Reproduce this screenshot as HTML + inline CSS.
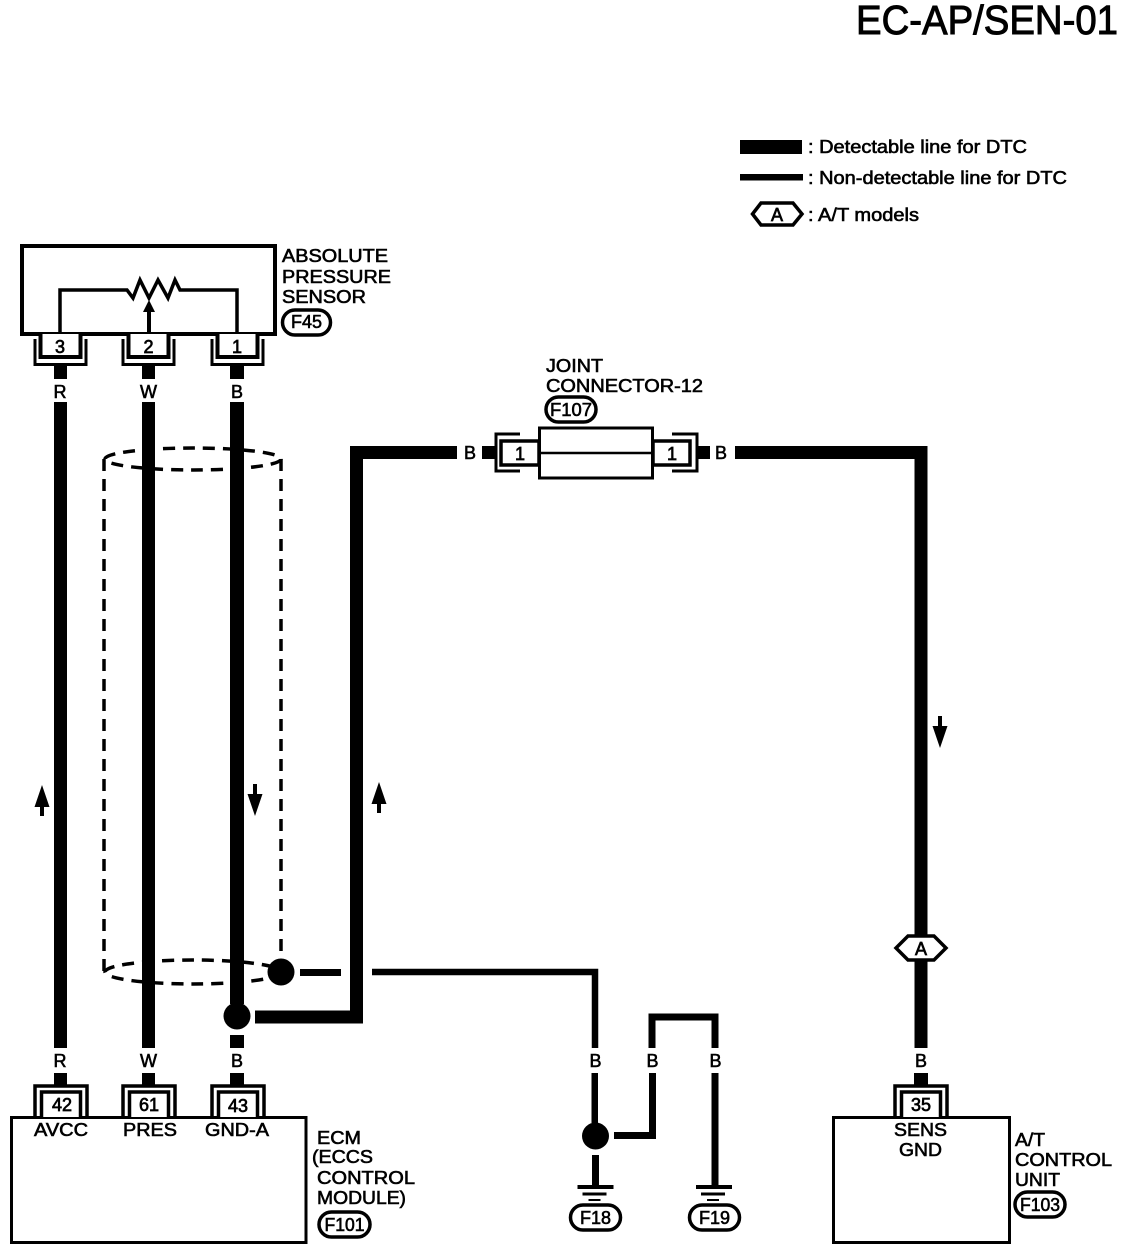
<!DOCTYPE html>
<html><head><meta charset="utf-8"><style>
html,body{margin:0;padding:0;background:#fff}
svg{display:block}
text{font-family:"Liberation Sans",sans-serif;fill:#000;stroke:#000;stroke-width:.6;font-size:18px}
.c{text-anchor:middle}
.n{font-size:18px;stroke-width:.7}
.p{font-size:18px;stroke-width:.6}
</style></head><body>
<svg xmlns="http://www.w3.org/2000/svg" width="1136" height="1252" viewBox="0 0 1136 1252">
<defs>
<path id="up" d="M0 0 L7.500 22 L2 22 L2 31 L-2 31 L-2 22 L-7.500 22Z"/>
<path id="dn" d="M-2 0 L2 0 L2 10 L7.500 10 L0 32 L-7.500 10 L-2 10Z"/>
<g id="topc" fill="none" stroke="#000">
<path d="M-25 339 V364.500 H26 V339" stroke-width="3"/>
<path d="M-19.500 334 V357 H20.500 V334" stroke-width="4" fill="#fff"/>
</g>
<g id="botc" fill="none" stroke="#000">
<path d="M-25 1116 V1086 H27 V1116" stroke-width="3.500"/>
<path d="M-18.500 1117 V1092 H20.500 V1117" stroke-width="3.500" fill="#fff"/>
</g>
<g id="gnd" stroke="#000">
<path d="M-18 0 H18" stroke-width="4"/><path d="M-13 7 H11" stroke-width="3"/><path d="M-7 13 H5" stroke-width="2"/>
</g>
</defs>
<rect width="1136" height="1252" fill="#fff"/>

<text x="856" y="34" style="font-size:41px;stroke-width:1" textLength="262" lengthAdjust="spacingAndGlyphs">EC-AP/SEN-01</text>

<!-- legend -->
<rect x="740" y="140" width="62" height="14"/>
<rect x="740" y="174" width="63" height="6.500"/>
<path d="M772 203 H761 L752.500 214 L761 225 H793 L802 214 L793 203Z" fill="#fff" stroke="#000" stroke-width="3.500"/>
<text class="c n" x="777" y="221">A</text>
<text x="808" y="153" textLength="219" lengthAdjust="spacingAndGlyphs">: Detectable line for DTC</text>
<text x="808" y="184" textLength="259" lengthAdjust="spacingAndGlyphs">: Non-detectable line for DTC</text>
<text x="808" y="221" textLength="111" lengthAdjust="spacingAndGlyphs">: A/T models</text>

<!-- sensor -->
<rect x="22" y="246" width="253" height="88" fill="none" stroke="#000" stroke-width="4"/>
<path d="M60 334 V290 H127 L133 298 L140 280 L149 298 L158 280 L168 298 L175 280 L180 290 H237 V334" fill="none" stroke="#000" stroke-width="3.500"/>
<path d="M149 300 L155 312 L151 312 V334 H147 V312 L143 312Z"/>
<text x="282" y="262" textLength="106" lengthAdjust="spacingAndGlyphs">ABSOLUTE</text>
<text x="282" y="283" textLength="109" lengthAdjust="spacingAndGlyphs">PRESSURE</text>
<text x="282" y="303" textLength="84" lengthAdjust="spacingAndGlyphs">SENSOR</text>
<rect x="282.500" y="310" width="48" height="25" rx="12.500" fill="#fff" stroke="#000" stroke-width="3.500"/>
<text class="c p" x="306.500" y="328">F45</text>

<use href="#topc" x="60"/><use href="#topc" x="148"/><use href="#topc" x="237"/>
<text class="c n" x="60" y="353">3</text>
<text class="c n" x="148.500" y="353">2</text>
<text class="c n" x="237" y="353">1</text>

<!-- main wires -->
<g>
<rect x="54" y="366" width="13" height="13"/><rect x="54" y="402" width="13" height="646"/><rect x="54" y="1073" width="13" height="13"/>
<rect x="142" y="366" width="13" height="13"/><rect x="142" y="402" width="13" height="646"/><rect x="142" y="1073" width="13" height="13"/>
<rect x="230" y="366" width="14" height="13"/><rect x="230" y="402" width="14" height="602"/><rect x="230" y="1035" width="14" height="13"/><rect x="230" y="1073" width="14" height="13"/>
</g>
<text class="c" x="60" y="398">R</text><text class="c" x="148.500" y="398">W</text><text class="c" x="237" y="398">B</text>
<text class="c" x="60" y="1067">R</text><text class="c" x="148.500" y="1067">W</text><text class="c" x="237" y="1067">B</text>

<!-- shield -->
<g fill="none" stroke="#000" stroke-width="3.500" stroke-dasharray="12 8">
<ellipse cx="193" cy="459" rx="88" ry="11"/>
<ellipse cx="193" cy="972" rx="88" ry="12"/>
<path d="M104 459 V972"/><path d="M281 459 V960"/>
</g>
<rect x="142" y="440" width="13" height="40"/><rect x="230" y="440" width="14" height="40"/>
<rect x="142" y="950" width="13" height="45"/><rect x="230" y="950" width="14" height="45"/>
<circle cx="281" cy="972" r="13.500"/>
<rect x="300" y="969" width="41" height="7"/>
<path d="M372 972 H595 V1048" fill="none" stroke="#000" stroke-width="6.500"/>

<!-- ground junction -->
<circle cx="237" cy="1016" r="13.500"/>
<path d="M255 1017 H356.500 V452.500 H457" fill="none" stroke="#000" stroke-width="13"/>
<text class="c" x="470" y="459">B</text>
<rect x="482" y="446" width="13" height="13"/>

<!-- joint connector -->
<text x="546" y="372" textLength="57" lengthAdjust="spacingAndGlyphs">JOINT</text>
<text x="546" y="392" textLength="157" lengthAdjust="spacingAndGlyphs">CONNECTOR-12</text>
<rect x="546" y="397" width="50" height="25" rx="12.500" fill="#fff" stroke="#000" stroke-width="3.500"/>
<text class="c p" x="571" y="416" textLength="42" lengthAdjust="spacingAndGlyphs">F107</text>
<path d="M520 434 H496 V471 H520" fill="none" stroke="#000" stroke-width="3"/>
<rect x="501" y="441" width="38" height="24" fill="#fff" stroke="#000" stroke-width="3.500"/>
<path d="M672 434 H697 V471 H672" fill="none" stroke="#000" stroke-width="3"/>
<rect x="653" y="441" width="37" height="24" fill="#fff" stroke="#000" stroke-width="3.500"/>
<rect x="539.500" y="428" width="113" height="50" fill="#fff" stroke="#000" stroke-width="3"/>
<path d="M540 453 H652" stroke="#000" stroke-width="2.500"/>
<text class="c n" x="520" y="460">1</text>
<text class="c n" x="672" y="460">1</text>
<rect x="697" y="446" width="13" height="13"/>
<text class="c" x="721" y="459">B</text>
<path d="M735 452.500 H921 V1048" fill="none" stroke="#000" stroke-width="13"/>
<path d="M908 936 H934 L946 948 L934 960 H908 L896 948Z" fill="#fff" stroke="#000" stroke-width="3.500"/>
<text class="c n" x="921" y="955">A</text>
<text class="c" x="921" y="1067">B</text>
<rect x="914" y="1073" width="14" height="13"/>

<!-- arrows -->
<use href="#up" x="42" y="785"/>
<use href="#dn" x="255" y="784"/>
<use href="#up" x="379" y="782"/>
<use href="#dn" x="940" y="716"/>

<!-- ECM -->
<rect x="11.500" y="1117.500" width="294.500" height="125" fill="none" stroke="#000" stroke-width="3"/>
<use href="#botc" x="60"/><use href="#botc" x="148"/><use href="#botc" x="237"/>
<text class="c n" x="62" y="1111">42</text>
<text class="c n" x="149" y="1111">61</text>
<text class="c n" x="238" y="1112">43</text>
<text x="34" y="1136" textLength="54" lengthAdjust="spacingAndGlyphs">AVCC</text>
<text x="123" y="1136" textLength="54" lengthAdjust="spacingAndGlyphs">PRES</text>
<text x="205" y="1136" textLength="64" lengthAdjust="spacingAndGlyphs">GND-A</text>
<text x="317" y="1144" textLength="44" lengthAdjust="spacingAndGlyphs">ECM</text>
<text x="312" y="1163" textLength="61" lengthAdjust="spacingAndGlyphs">(ECCS</text>
<text x="317" y="1184" textLength="98" lengthAdjust="spacingAndGlyphs">CONTROL</text>
<text x="317" y="1204" textLength="89" lengthAdjust="spacingAndGlyphs">MODULE)</text>
<rect x="319" y="1212" width="51" height="25" rx="12.500" fill="#fff" stroke="#000" stroke-width="3.500"/>
<text class="c p" x="344.500" y="1231" textLength="40" lengthAdjust="spacingAndGlyphs">F101</text>

<!-- grounds -->
<path d="M652 1048 V1017 H715 V1048" fill="none" stroke="#000" stroke-width="7"/>
<text class="c" x="595.500" y="1067">B</text><text class="c" x="652.500" y="1067">B</text><text class="c" x="715.500" y="1067">B</text>
<rect x="591.500" y="1073" width="6.500" height="50"/>
<circle cx="595.500" cy="1136" r="13.500"/>
<rect x="592" y="1155" width="7" height="32"/>
<path d="M614 1135.500 H652.500 V1073" fill="none" stroke="#000" stroke-width="7"/>
<rect x="711.500" y="1073" width="7" height="113"/>
<use href="#gnd" x="595.500" y="1187"/><use href="#gnd" x="714" y="1187"/>
<rect x="570.500" y="1205" width="50" height="25" rx="12.500" fill="#fff" stroke="#000" stroke-width="3.500"/>
<text class="c" x="595.500" y="1224">F18</text>
<rect x="689.500" y="1205" width="50" height="25" rx="12.500" fill="#fff" stroke="#000" stroke-width="3.500"/>
<text class="c" x="714.500" y="1224">F19</text>

<!-- A/T unit -->
<rect x="833.500" y="1117.500" width="176" height="125" fill="none" stroke="#000" stroke-width="3"/>
<use href="#botc" x="920"/>
<text class="c n" x="921" y="1111">35</text>
<text x="894" y="1136" textLength="53" lengthAdjust="spacingAndGlyphs">SENS</text>
<text x="899" y="1156" textLength="43" lengthAdjust="spacingAndGlyphs">GND</text>
<text x="1015" y="1146" textLength="30" lengthAdjust="spacingAndGlyphs">A/T</text>
<text x="1015" y="1166" textLength="97" lengthAdjust="spacingAndGlyphs">CONTROL</text>
<text x="1015" y="1186" textLength="45" lengthAdjust="spacingAndGlyphs">UNIT</text>
<rect x="1015" y="1192" width="50" height="25" rx="12.500" fill="#fff" stroke="#000" stroke-width="3.500"/>
<text class="c p" x="1040" y="1211" textLength="40" lengthAdjust="spacingAndGlyphs">F103</text>
</svg>
</body></html>
